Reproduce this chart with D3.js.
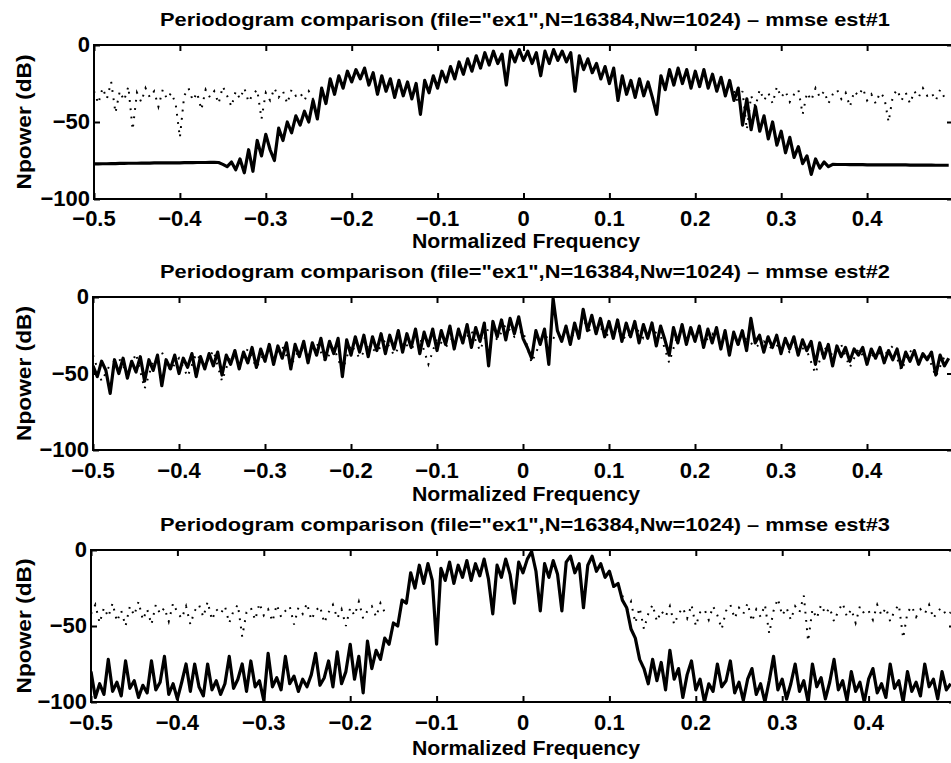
<!DOCTYPE html>
<html>
<head>
<meta charset="utf-8">
<script src="https://cdn.jsdelivr.net/npm/d3@7"></script>
<style>
  html, body { margin: 0; padding: 0; background: #fff; }
  svg { display: block; }
  text { font-family: "Liberation Sans", Arial, Helvetica, sans-serif; font-weight: bold; fill: #000; }
</style>
</head>
<body>
<svg id="chart" width="951" height="763"></svg>
<script>
// ---------------- DATA ----------------
const xTicks = [-0.5, -0.4, -0.3, -0.2, -0.1, 0, 0.1, 0.2, 0.3, 0.4];
const xTickLabels = ["\u22120.5", "\u22120.4", "\u22120.3", "\u22120.2", "\u22120.1", "0", "0.1", "0.2", "0.3", "0.4"];
const yTicks = [0, -50, -100];
const yTickLabels = ["0", "\u221250", "\u2212100"];
const titles = [
  'Periodogram comparison (file="ex1",N=16384,Nw=1024) \u2013 mmse est#1',
  'Periodogram comparison (file="ex1",N=16384,Nw=1024) \u2013 mmse est#2',
  'Periodogram comparison (file="ex1",N=16384,Nw=1024) \u2013 mmse est#3'
];
const xLabel = "Normalized Frequency";
const yLabel = "Npower (dB)";

// frequency grid of the estimates: start and step
const estStart = -0.5, estStep = 0.005;

// est#1 (solid), dB
const est1 = [
 -77.2,-77.2,-77.1,-77.1,-77.0,-77.0,-76.9,-76.9,-76.8,-76.8,
 -76.8,-76.7,-76.7,-76.7,-76.6,-76.6,-76.6,-76.5,-76.5,-76.5,
 -76.5,-76.4,-76.4,-76.4,-76.3,-76.3,-76.3,-76.2,-76.2,-76.3,
 -77.5,-79,-76,-81,-74,-83,-68,-82,-62,-72,
 -58,-68,-75,-54,-62,-50,-57,-46,-52,-43,
 -50,-36,-48,-28,-38,-22,-32,-20,-28,-17,
 -24,-16,-22,-15,-26,-18,-32,-20,-30,-22,
 -34,-23,-33,-24,-35,-25,-45,-23,-31,-20,
 -28,-17,-24,-14,-22,-11,-19,-9,-17,-7,
 -15,-5,-13,-4,-12,-6,-26,-4,-11,-3,
 -10,-4,-12,-5,-20,-4,-12,-3,-10,-4,
 -11,-5,-30,-7,-16,-9,-18,-12,-22,-14,
 -25,-15,-36,-20,-32,-23,-34,-22,-33,-24,
 -34,-45,-20,-29,-16,-26,-15,-25,-16,-28,
 -17,-27,-16,-28,-19,-30,-21,-33,-23,-36,
 -28,-52,-35,-55,-40,-56,-46,-61,-50,-65,
 -56,-70,-60,-73,-66,-77,-72,-84,-74,-80,
 -76,-79,-77.5,-77.6,-77.6,-77.6,-77.7,-77.7,-77.7,-77.7,
 -77.8,-77.8,-77.8,-77.8,-77.8,-77.9,-77.9,-77.9,-77.9,-77.9,
 -78.0,-78.0,-78.0,-78.0,-78.0,-78.0,-78.1,-78.1,-78.1,-78.1
];
// reference periodogram for panel 1 (dotted), visible outside the band
const ref1LeftStart = -0.5;
const ref1Left = [
 -30,-38,-28,-35,-24,-44,-30,-36,-27,-55,
 -31,-37,-28,-34,-30,-40,-29,-35,-31,-38,
 -60,-33,-28,-36,-31,-42,-29,-34,-30,-38,
 -27,-33,-40,-30,-35,-28,-37,-32,-29,-48,
 -31,-36,-28,-34,-30,-38,-29,-33,-31,-36,
 -30,-35,-32
];
const ref1RightStart = 0.245;
const ref1Right = [
 -30,-38,-30,-55,-33,-40,-29,-36,-31,-38,
 -27,-34,-30,-37,-32,-29,-45,-31,-36,-28,
 -34,-30,-38,-32,-29,-35,-31,-40,-30,-33,
 -28,-36,-32,-38,-31,-34,-50,-33,-29,-36,
 -31,-38,-30,-34,-28,-33,-31,-36,-29,-34,
 -32
];

// est#2 (solid), dB
const est2 = [
 -45,-52,-42,-48,-63,-41,-50,-40,-53,-42,
 -49,-39,-55,-41,-48,-38,-58,-41,-47,-38,
 -50,-40,-46,-37,-52,-39,-47,-37,-45,-36,
 -51,-38,-44,-35,-47,-36,-43,-33,-46,-34,
 -42,-31,-44,-32,-40,-30,-47,-31,-39,-29,
 -43,-30,-38,-27,-41,-29,-37,-27,-52,-28,
 -38,-26,-36,-25,-39,-26,-35,-24,-37,-25,
 -34,-22,-36,-24,-33,-21,-37,-23,-32,-21,
 -35,-22,-31,-19,-34,-21,-30,-18,-33,-20,
 -29,-17,-45,-16,-26,-15,-28,-14,-24,-13,
 -27,-33,-40,-22,-31,-21,-44,-1,-22,-29,
 -19,-31,-17,-27,-8,-22,-12,-24,-14,-26,
 -16,-27,-15,-29,-17,-26,-16,-30,-18,-27,
 -17,-32,-19,-28,-38,-20,-30,-18,-31,-20,
 -29,-19,-33,-21,-30,-20,-34,-22,-38,-23,
 -31,-22,-35,-14,-30,-25,-36,-26,-33,-25,
 -37,-27,-34,-26,-38,-28,-35,-29,-44,-30,
 -40,-31,-45,-32,-39,-33,-42,-34,-38,-33,
 -44,-34,-40,-33,-43,-35,-41,-34,-46,-36,
 -42,-35,-44,-37,-41,-36,-51,-38,-45,-40
];
const ref2Start = -0.5, ref2Step = 0.01;
const ref2 = [
 -38,-55,-44,-40,-50,-37,-60,-42,-36,-48,
 -40,-52,-37,-45,-35,-55,-38,-44,-34,-46,
 -36,-40,-32,-45,-34,-38,-30,-42,-33,-48,
 -31,-40,-32,-36,-28,-38,-29,-34,-26,-44,
 -27,-33,-25,-30,-22,-35,-20,-28,-18,-26,
 -22,-43,-30,-25,-28,-22,-26,-15,-24,-20,
 -26,-21,-28,-19,-27,-22,-25,-43,-24,-28,
 -22,-30,-24,-29,-26,-31,-27,-33,-29,-34,
 -30,-36,-32,-35,-50,-33,-38,-31,-46,-34,
 -42,-36,-38,-32,-48,-35,-41,-37,-52,-39
];

// est#3 (solid), dB
const est3 = [
 -80,-97,-88,-95,-72,-93,-87,-96,-73,-91,
 -86,-97,-89,-94,-73,-92,-87,-70,-95,-88,
 -98,-87,-75,-93,-75,-90,-96,-75,-92,-86,
 -95,-88,-70,-91,-85,-75,-93,-73,-90,-86,
 -99,-68,-90,-84,-92,-70,-88,-83,-93,-85,
 -90,-82,-68,-89,-84,-73,-90,-67,-88,-80,
 -62,-85,-70,-94,-60,-78,-66,-72,-58,-62,
 -48,-50,-33,-35,-15,-25,-10,-22,-9,-20,
 -62,-12,-20,-8,-22,-10,-18,-7,-20,-9,
 -17,-6,-19,-42,-10,-18,-6,-16,-35,-8,
 -15,-6,-1,-14,-40,-9,-18,-7,-16,-40,
 -8,-4,-15,-9,-38,-10,-4,-14,-9,-18,
 -14,-24,-22,-33,-38,-52,-58,-72,-78,-88,
 -72,-86,-74,-92,-66,-85,-78,-97,-82,-73,
 -92,-85,-100,-88,-93,-75,-90,-86,-73,-94,
 -87,-99,-85,-78,-95,-88,-100,-86,-70,-92,
 -85,-98,-88,-75,-93,-86,-100,-75,-90,-84,
 -98,-87,-72,-92,-86,-99,-80,-93,-87,-100,
 -85,-78,-94,-88,-97,-75,-91,-86,-100,-80,
 -93,-87,-96,-75,-90,-85,-98,-80,-92,-88
];
const ref3LeftStart = -0.5;
const ref3Left = [
 -42,-36,-48,-38,-44,-35,-47,-40,-50,-37,
 -43,-34,-46,-39,-49,-36,-42,-38,-47,-35,
 -41,-45,-37,-49,-40,-36,-44,-34,-46,-39,
 -42,-37,-48,-40,-36,-57,-41,-38,-46,-35,
 -43,-39,-47,-36,-44,-40,-37,-49,-38,-42,
 -35,-46,-40,-37,-48,-41,-36,-45,-39,-50,
 -38,-43,-34,-45,-40,-37,-44,-35,-41,-39
];
const ref3RightStart = 0.115;
const ref3Right = [
 -30,-40,-34,-48,-38,-52,-42,-36,-47,-40,
 -44,-37,-49,-42,-38,-45,-36,-50,-41,-39,
 -46,-37,-43,-52,-40,-36,-45,-38,-42,-35,
 -47,-39,-44,-36,-55,-40,-32,-43,-38,-46,
 -37,-41,-30,-60,-39,-45,-36,-42,-38,-47,
 -40,-35,-44,-39,-48,-37,-42,-40,-46,-36,
 -43,-38,-47,-40,-36,-58,-41,-37,-44,-39,
 -42,-36,-45,-40,-38,-43,-41
];

// ---------------- LAYOUT ----------------
const panels = [
  { title: titles[0], est: est1, refs: [[ref1LeftStart, estStep, ref1Left], [ref1RightStart, estStep, ref1Right]],
    left: 94, right: 953, top: 45, bottom: 199, titleY: 26, tickY: 226, xLabY: 248 },
  { title: titles[1], est: est2, refs: [[ref2Start, ref2Step, ref2]],
    left: 93, right: 953, top: 297, bottom: 450, titleY: 278, tickY: 478, xLabY: 501 },
  { title: titles[2], est: est3, refs: [[ref3LeftStart, estStep, ref3Left], [ref3RightStart, estStep, ref3Right]],
    left: 91, right: 955, top: 550, bottom: 702, titleY: 531, tickY: 730, xLabY: 755 }
];

const svg = d3.select("#chart");

panels.forEach((p, k) => {
  const x = d3.scaleLinear().domain([-0.5, 0.5]).range([p.left, p.right]);
  const y = d3.scaleLinear().domain([-100, 0]).range([p.bottom, p.top]);
  const g = svg.append("g");

  const clipId = "clip" + k;
  svg.append("clipPath").attr("id", clipId).append("rect")
    .attr("x", p.left).attr("y", p.top).attr("width", p.right - p.left).attr("height", p.bottom - p.top);

  const line = d3.line().x(d => x(d.f)).y(d => y(d.v));

  // reference periodogram (dotted)
  p.refs.forEach(([start, step, vals]) => {
    const data = vals.map((v, i) => ({ f: start + i * step, v }));
    g.append("path").datum(data)
      .attr("clip-path", `url(#${clipId})`)
      .attr("fill", "none").attr("stroke", "#000")
      .attr("stroke-width", 2)
      .attr("stroke-dasharray", "1.8,6.5")
      .attr("d", line);
  });

  // estimate (solid)
  const estData = p.est.map((v, i) => ({ f: estStart + i * estStep, v }));
  g.append("path").datum(estData)
    .attr("clip-path", `url(#${clipId})`)
    .attr("fill", "none").attr("stroke", "#000")
    .attr("stroke-width", 3.2)
    .attr("stroke-linejoin", "round")
    .attr("d", line);

  // box
  g.append("rect")
    .attr("x", p.left).attr("y", p.top)
    .attr("width", p.right - p.left).attr("height", p.bottom - p.top)
    .attr("fill", "none").attr("stroke", "#000").attr("stroke-width", 2);

  // axes with inward ticks
  const xAxisB = d3.axisBottom(x).tickValues(xTicks).tickSize(-6).tickFormat("");
  const xAxisT = d3.axisTop(x).tickValues(xTicks).tickSize(-6).tickFormat("");
  const yAxisL = d3.axisLeft(y).tickValues(yTicks).tickSize(-6).tickFormat("");
  const yAxisR = d3.axisRight(y).tickValues(yTicks).tickSize(-6).tickFormat("");
  [[xAxisB, `translate(0,${p.bottom})`], [xAxisT, `translate(0,${p.top})`],
   [yAxisL, `translate(${p.left},0)`], [yAxisR, `translate(${p.right},0)`]].forEach(([ax, tr]) => {
    const a = g.append("g").attr("transform", tr).call(ax);
    a.select(".domain").remove();
    a.selectAll("line").attr("stroke", "#000").attr("stroke-width", 2);
  });

  // tick labels
  g.selectAll(".xt").data(xTicks).enter().append("text")
    .attr("x", d => x(d)).attr("y", p.tickY)
    .attr("text-anchor", "middle").attr("font-size", 22)
    .text((d, i) => xTickLabels[i]);
  g.selectAll(".yt").data(yTicks).enter().append("text")
    .attr("x", p.left - 4).attr("y", d => y(d) + 7)
    .attr("text-anchor", "end").attr("font-size", 22)
    .text((d, i) => yTickLabels[i]);

  // titles and labels
  g.append("text").attr("x", 525).attr("y", p.titleY)
    .attr("text-anchor", "middle").attr("font-size", 19)
    .attr("textLength", 730).attr("lengthAdjust", "spacingAndGlyphs")
    .text(p.title);
  g.append("text").attr("x", 526).attr("y", p.xLabY)
    .attr("text-anchor", "middle").attr("font-size", 21)
    .attr("textLength", 228).attr("lengthAdjust", "spacingAndGlyphs")
    .text(xLabel);
  const cy = (p.top + p.bottom) / 2;
  g.append("text")
    .attr("transform", `translate(31,${cy}) rotate(-90)`)
    .attr("text-anchor", "middle").attr("font-size", 20)
    .attr("textLength", 135).attr("lengthAdjust", "spacingAndGlyphs")
    .text(yLabel);
});
</script>
</body>
</html>
